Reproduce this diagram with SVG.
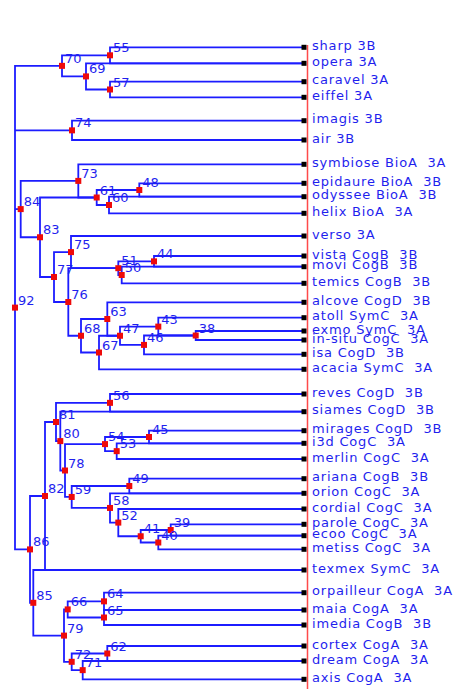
<svg xmlns="http://www.w3.org/2000/svg" width="456" height="689" viewBox="0 0 456 689">
<style>
.e path{fill:none;stroke:#1c1cff;stroke-width:1.8}
.n rect{fill:#ee0a0a}
.l rect{fill:#000}
text{font-family:"DejaVu Sans",Verdana,sans-serif;font-size:13px;fill:#1f1fee}
.l text{letter-spacing:0.8px;white-space:pre}
</style>
<rect width="456" height="689" fill="#fff"/>
<g id="connectors" class="e">
<path d="M304 47.3H110V63.3H304"/>
<path d="M304 81.7H110V97.3H304"/>
<path d="M304 63.3H86V89.5H110"/>
<path d="M110 55.3H62V76.4H86"/>
<path d="M304 120.7H72V140H304"/>
<path d="M62 65.85H15V549.4H30"/>
<path d="M15 130.35H72"/>
<path d="M15 209.1H20.7"/>
<path d="M304 183.3H139.3V196.7H304"/>
<path d="M304 196.7H109V213.3H304"/>
<path d="M139.3 190H96.7V205H109"/>
<path d="M304 164.3H78.3V197.5H96.7"/>
<path d="M304 256H154V266.7H304"/>
<path d="M304 266.7H121.7V283.3H304"/>
<path d="M154 261.35H118.3V275H121.7"/>
<path d="M304 236H71V268.2H118.3"/>
<path d="M304 331H195.7V340H304"/>
<path d="M304 317.7H158.3V335.5H195.7"/>
<path d="M195.7 335.5H144V354.3H304"/>
<path d="M158.3 326.6H120V344.9H144"/>
<path d="M304 302.3H107.3V335.75H120"/>
<path d="M120 335.75H99V369.3H304"/>
<path d="M107.3 319H81V352.5H99"/>
<path d="M118.3 268.2H68.3V335.75H81"/>
<path d="M71 252.1H54V302H68.3"/>
<path d="M96.7 197.5H40V277H54"/>
<path d="M78.3 180.9H20.7V237.25H40"/>
<path d="M304 394H110V411.7H304"/>
<path d="M304 430.7H149V443.3H304"/>
<path d="M304 443.3H116.7V459H304"/>
<path d="M149 437H105V451.15H116.7"/>
<path d="M304 478.7H129.3V493.3H304"/>
<path d="M304 524.3H170.7V535.7H304"/>
<path d="M304 535.7H158.3V549.3H304"/>
<path d="M170.7 530H140.7V542.5H158.3"/>
<path d="M304 509H118.3V536.25H140.7"/>
<path d="M304 493.3H110V522.6H118.3"/>
<path d="M129.3 486H71.7V507.95H110"/>
<path d="M105 444.1H65V496.95H71.7"/>
<path d="M304 411.7H60.3V470.5H65"/>
<path d="M110 402.85H56V441.1H60.3"/>
<path d="M56 422H45V570H304"/>
<path d="M304 592.7H104V610H304"/>
<path d="M304 610H104V625H304"/>
<path d="M104 601.35H67.7V617.5H104"/>
<path d="M304 646H107.3V661H304"/>
<path d="M304 661H82.7V679.3H304"/>
<path d="M107.3 653.5H71.7V670.15H82.7"/>
<path d="M67.7 609.4H64V661.8H71.7"/>
<path d="M304 570H33.3V635.6H64"/>
<path d="M45 496H30V602.8H33.3"/>
</g>
<line id="leaf-axis" x1="307.5" y1="45" x2="307.5" y2="689" stroke="#ff4a4a" stroke-width="1.5"/>
<g id="n55" class="n"><rect x="107" y="52.3" width="6" height="6"/><text x="113" y="52.3">55</text></g>
<g id="n57" class="n"><rect x="107" y="86.5" width="6" height="6"/><text x="113" y="86.5">57</text></g>
<g id="n69" class="n"><rect x="83" y="73.4" width="6" height="6"/><text x="89" y="73.4">69</text></g>
<g id="n70" class="n"><rect x="59" y="62.85" width="6" height="6"/><text x="65" y="62.85">70</text></g>
<g id="n74" class="n"><rect x="69" y="127.35" width="6" height="6"/><text x="75" y="127.35">74</text></g>
<g id="n92" class="n"><rect x="12" y="304.6" width="6" height="6"/><text x="18" y="304.6">92</text></g>
<g id="n48" class="n"><rect x="136.3" y="187" width="6" height="6"/><text x="142.3" y="187">48</text></g>
<g id="n60" class="n"><rect x="106" y="202" width="6" height="6"/><text x="112" y="202">60</text></g>
<g id="n61" class="n"><rect x="93.7" y="194.5" width="6" height="6"/><text x="99.7" y="194.5">61</text></g>
<g id="n73" class="n"><rect x="75.3" y="177.9" width="6" height="6"/><text x="81.3" y="177.9">73</text></g>
<g id="n44" class="n"><rect x="151" y="258.35" width="6" height="6"/><text x="157" y="258.35">44</text></g>
<g id="n50" class="n"><rect x="118.7" y="272" width="6" height="6"/><text x="124.7" y="272">50</text></g>
<g id="n51" class="n"><rect x="115.3" y="265.2" width="6" height="6"/><text x="121.3" y="265.2">51</text></g>
<g id="n75" class="n"><rect x="68" y="249.1" width="6" height="6"/><text x="74" y="249.1">75</text></g>
<g id="n38" class="n"><rect x="192.7" y="332.5" width="6" height="6"/><text x="198.7" y="332.5">38</text></g>
<g id="n43" class="n"><rect x="155.3" y="323.6" width="6" height="6"/><text x="161.3" y="323.6">43</text></g>
<g id="n46" class="n"><rect x="141" y="341.9" width="6" height="6"/><text x="147" y="341.9">46</text></g>
<g id="n47" class="n"><rect x="117" y="332.75" width="6" height="6"/><text x="123" y="332.75">47</text></g>
<g id="n63" class="n"><rect x="104.3" y="316" width="6" height="6"/><text x="110.3" y="316">63</text></g>
<g id="n67" class="n"><rect x="96" y="349.5" width="6" height="6"/><text x="102" y="349.5">67</text></g>
<g id="n68" class="n"><rect x="78" y="332.75" width="6" height="6"/><text x="84" y="332.75">68</text></g>
<g id="n76" class="n"><rect x="65.3" y="299" width="6" height="6"/><text x="71.3" y="299">76</text></g>
<g id="n77" class="n"><rect x="51" y="274" width="6" height="6"/><text x="57" y="274">77</text></g>
<g id="n83" class="n"><rect x="37" y="234.25" width="6" height="6"/><text x="43" y="234.25">83</text></g>
<g id="n84" class="n"><rect x="17.7" y="206.1" width="6" height="6"/><text x="23.7" y="206.1">84</text></g>
<g id="n56" class="n"><rect x="107" y="399.85" width="6" height="6"/><text x="113" y="399.85">56</text></g>
<g id="n45" class="n"><rect x="146" y="434" width="6" height="6"/><text x="152" y="434">45</text></g>
<g id="n53" class="n"><rect x="113.7" y="448.15" width="6" height="6"/><text x="119.7" y="448.15">53</text></g>
<g id="n54" class="n"><rect x="102" y="441.1" width="6" height="6"/><text x="108" y="441.1">54</text></g>
<g id="n49" class="n"><rect x="126.3" y="483" width="6" height="6"/><text x="132.3" y="483">49</text></g>
<g id="n39" class="n"><rect x="167.7" y="527" width="6" height="6"/><text x="173.7" y="527">39</text></g>
<g id="n40" class="n"><rect x="155.3" y="539.5" width="6" height="6"/><text x="161.3" y="539.5">40</text></g>
<g id="n41" class="n"><rect x="137.7" y="533.25" width="6" height="6"/><text x="143.7" y="533.25">41</text></g>
<g id="n52" class="n"><rect x="115.3" y="519.6" width="6" height="6"/><text x="121.3" y="519.6">52</text></g>
<g id="n58" class="n"><rect x="107" y="504.95" width="6" height="6"/><text x="113" y="504.95">58</text></g>
<g id="n59" class="n"><rect x="68.7" y="493.95" width="6" height="6"/><text x="74.7" y="493.95">59</text></g>
<g id="n78" class="n"><rect x="62" y="467.5" width="6" height="6"/><text x="68" y="467.5">78</text></g>
<g id="n80" class="n"><rect x="57.3" y="438.1" width="6" height="6"/><text x="63.3" y="438.1">80</text></g>
<g id="n81" class="n"><rect x="53" y="419" width="6" height="6"/><text x="59" y="419">81</text></g>
<g id="n82" class="n"><rect x="42" y="493" width="6" height="6"/><text x="48" y="493">82</text></g>
<g id="n64" class="n"><rect x="101" y="598.35" width="6" height="6"/><text x="107" y="598.35">64</text></g>
<g id="n65" class="n"><rect x="101" y="614.5" width="6" height="6"/><text x="107" y="614.5">65</text></g>
<g id="n66" class="n"><rect x="64.7" y="606.4" width="6" height="6"/><text x="70.7" y="606.4">66</text></g>
<g id="n62" class="n"><rect x="104.3" y="650.5" width="6" height="6"/><text x="110.3" y="650.5">62</text></g>
<g id="n71" class="n"><rect x="79.7" y="667.15" width="6" height="6"/><text x="85.7" y="667.15">71</text></g>
<g id="n72" class="n"><rect x="68.7" y="658.8" width="6" height="6"/><text x="74.7" y="658.8">72</text></g>
<g id="n79" class="n"><rect x="61" y="632.6" width="6" height="6"/><text x="67" y="632.6">79</text></g>
<g id="n85" class="n"><rect x="30.3" y="599.8" width="6" height="6"/><text x="36.3" y="599.8">85</text></g>
<g id="n86" class="n"><rect x="27" y="546.4" width="6" height="6"/><text x="33" y="546.4">86</text></g>
<g id="sharp" class="l"><rect x="301.5" y="44.8" width="5" height="5"/><text x="312" y="49.8">sharp 3B</text></g>
<g id="opera" class="l"><rect x="301.5" y="60.8" width="5" height="5"/><text x="312" y="65.8">opera 3A</text></g>
<g id="caravel" class="l"><rect x="301.5" y="79.2" width="5" height="5"/><text x="312" y="84.2">caravel 3A</text></g>
<g id="eiffel" class="l"><rect x="301.5" y="94.8" width="5" height="5"/><text x="312" y="99.8">eiffel 3A</text></g>
<g id="imagis" class="l"><rect x="301.5" y="118.2" width="5" height="5"/><text x="312" y="123.2">imagis 3B</text></g>
<g id="air" class="l"><rect x="301.5" y="137.5" width="5" height="5"/><text x="312" y="142.5">air 3B</text></g>
<g id="symbiose" class="l"><rect x="301.5" y="161.8" width="5" height="5"/><text x="312" y="166.8">symbiose BioA  3A</text></g>
<g id="epidaure" class="l"><rect x="301.5" y="180.8" width="5" height="5"/><text x="312" y="185.8">epidaure BioA  3B</text></g>
<g id="odyssee" class="l"><rect x="301.5" y="194.2" width="5" height="5"/><text x="312" y="199.2">odyssee BioA  3B</text></g>
<g id="helix" class="l"><rect x="301.5" y="210.8" width="5" height="5"/><text x="312" y="215.8">helix BioA  3A</text></g>
<g id="verso" class="l"><rect x="301.5" y="233.5" width="5" height="5"/><text x="312" y="238.5">verso 3A</text></g>
<g id="vista" class="l"><rect x="301.5" y="253.5" width="5" height="5"/><text x="312" y="258.5">vista CogB  3B</text></g>
<g id="movi" class="l"><rect x="301.5" y="264.2" width="5" height="5"/><text x="312" y="269.2">movi CogB  3B</text></g>
<g id="temics" class="l"><rect x="301.5" y="280.8" width="5" height="5"/><text x="312" y="285.8">temics CogB  3B</text></g>
<g id="alcove" class="l"><rect x="301.5" y="299.8" width="5" height="5"/><text x="312" y="304.8">alcove CogD  3B</text></g>
<g id="atoll" class="l"><rect x="301.5" y="315.2" width="5" height="5"/><text x="312" y="320.2">atoll SymC  3A</text></g>
<g id="exmo" class="l"><rect x="301.5" y="328.5" width="5" height="5"/><text x="312" y="333.5">exmo SymC  3A</text></g>
<g id="in-situ" class="l"><rect x="301.5" y="337.5" width="5" height="5"/><text x="312" y="342.5">in-situ CogC  3A</text></g>
<g id="isa" class="l"><rect x="301.5" y="351.8" width="5" height="5"/><text x="312" y="356.8">isa CogD  3B</text></g>
<g id="acacia" class="l"><rect x="301.5" y="366.8" width="5" height="5"/><text x="312" y="371.8">acacia SymC  3A</text></g>
<g id="reves" class="l"><rect x="301.5" y="391.5" width="5" height="5"/><text x="312" y="396.5">reves CogD  3B</text></g>
<g id="siames" class="l"><rect x="301.5" y="409.2" width="5" height="5"/><text x="312" y="414.2">siames CogD  3B</text></g>
<g id="mirages" class="l"><rect x="301.5" y="428.2" width="5" height="5"/><text x="312" y="433.2">mirages CogD  3B</text></g>
<g id="i3d" class="l"><rect x="301.5" y="440.8" width="5" height="5"/><text x="312" y="445.8">i3d CogC  3A</text></g>
<g id="merlin" class="l"><rect x="301.5" y="456.5" width="5" height="5"/><text x="312" y="461.5">merlin CogC  3A</text></g>
<g id="ariana" class="l"><rect x="301.5" y="476.2" width="5" height="5"/><text x="312" y="481.2">ariana CogB  3B</text></g>
<g id="orion" class="l"><rect x="301.5" y="490.8" width="5" height="5"/><text x="312" y="495.8">orion CogC  3A</text></g>
<g id="cordial" class="l"><rect x="301.5" y="506.5" width="5" height="5"/><text x="312" y="511.5">cordial CogC  3A</text></g>
<g id="parole" class="l"><rect x="301.5" y="521.8" width="5" height="5"/><text x="312" y="526.8">parole CogC  3A</text></g>
<g id="ecoo" class="l"><rect x="301.5" y="533.2" width="5" height="5"/><text x="312" y="538.2">ecoo CogC  3A</text></g>
<g id="metiss" class="l"><rect x="301.5" y="546.8" width="5" height="5"/><text x="312" y="551.8">metiss CogC  3A</text></g>
<g id="texmex" class="l"><rect x="301.5" y="567.5" width="5" height="5"/><text x="312" y="572.5">texmex SymC  3A</text></g>
<g id="orpailleur" class="l"><rect x="301.5" y="590.2" width="5" height="5"/><text x="312" y="595.2">orpailleur CogA  3A</text></g>
<g id="maia" class="l"><rect x="301.5" y="607.5" width="5" height="5"/><text x="312" y="612.5">maia CogA  3A</text></g>
<g id="imedia" class="l"><rect x="301.5" y="622.5" width="5" height="5"/><text x="312" y="627.5">imedia CogB  3B</text></g>
<g id="cortex" class="l"><rect x="301.5" y="643.5" width="5" height="5"/><text x="312" y="648.5">cortex CogA  3A</text></g>
<g id="dream" class="l"><rect x="301.5" y="658.5" width="5" height="5"/><text x="312" y="663.5">dream CogA  3A</text></g>
<g id="axis" class="l"><rect x="301.5" y="676.8" width="5" height="5"/><text x="312" y="681.8">axis CogA  3A</text></g>
</svg>
